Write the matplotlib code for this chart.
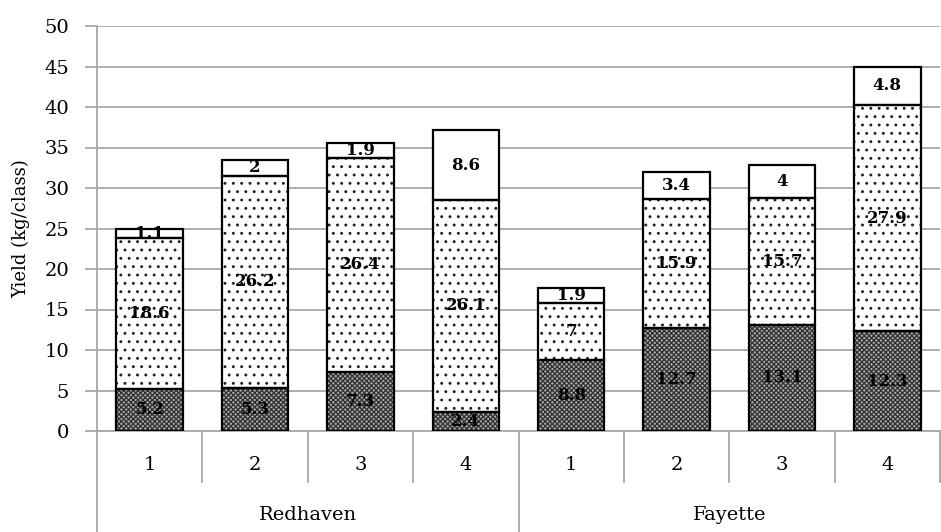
import numpy as np
import matplotlib.pyplot as plt
import matplotlib as mpl

plt.rcParams['font.family'] = ['DejaVu Serif']
mpl.rcParams['hatch.linewidth'] = 0.9

classes = ['1', '2', '3', '4', '1', '2', '3', '4']
cultivars = ['Redhaven', 'Fayette']
low = [5.2, 5.3, 7.3, 2.4, 8.8, 12.7, 13.1, 12.3]
mid = [18.6, 26.2, 26.4, 26.1, 7, 15.9, 15.7, 27.9]
top = [1.1, 2, 1.9, 8.6, 1.9, 3.4, 4, 4.8]

fig = plt.figure(figsize=(9.41, 5.32), dpi=100)
ax = fig.add_axes([97 / 941, 1 - 431 / 532, 843 / 941, 405 / 532])

x = np.arange(len(classes))
w = 0.63
low = np.array(low)
mid = np.array(mid)
top = np.array(top)

ax.bar(x, low, w, facecolor='#a8a8a8', edgecolor='#303030', hatch='xxxxxxx', linewidth=0, zorder=3)
ax.bar(x, mid, w, bottom=low, facecolor='white', edgecolor='#202020', hatch='..', linewidth=0, zorder=3)
ax.bar(x, top, w, bottom=low + mid, facecolor='white', edgecolor='black', linewidth=0, zorder=3)
for bottoms, vals in [(0 * low, low), (low, mid), (low + mid, top)]:
    ax.bar(x, vals, w, bottom=bottoms, fill=False, edgecolor='black', linewidth=1.6, zorder=4)

def fmt(v):
    return ('%g' % v)

for i in range(len(x)):
    ax.text(x[i], low[i] / 2, fmt(low[i]), ha='center', va='center', fontsize=12, fontweight='bold', zorder=5)
    ax.text(x[i], low[i] + mid[i] / 2, fmt(mid[i]), ha='center', va='center', fontsize=12, fontweight='bold', zorder=5)
    ax.text(x[i], low[i] + mid[i] + top[i] / 2, fmt(top[i]), ha='center', va='center', fontsize=12, fontweight='bold', zorder=5)

ax.set_xlim(-0.5, len(x) - 0.5)
ax.set_ylim(0, 50)
ax.set_yticks(np.arange(0, 51, 5))
ax.yaxis.grid(True, color='#a8a8a8', linewidth=1.3, zorder=0)
ax.tick_params(axis='y', length=9, width=1.3, color='#a8a8a8', labelsize=14, pad=11)
ax.set_xticks([])
for s in ['top', 'right', 'bottom']:
    ax.spines[s].set_visible(False)
ax.spines['left'].set_color('#a8a8a8')
ax.spines['left'].set_linewidth(1.3)
ax.set_ylabel('Yield (kg/class)', fontsize=13, labelpad=10)

# category axis below the plot
trans = ax.get_xaxis_transform()
ax.plot([-0.5, len(x) - 0.5], [0, 0], color='#a8a8a8', lw=1.3, transform=trans, clip_on=False)
row1 = -51 / 405
row2 = -101 / 405
for b in range(len(x) + 1):
    pos = b - 0.5
    end = row2 if b in (0, 4) else row1
    ax.plot([pos, pos], [0, end], color='#a8a8a8', lw=1.3, transform=trans, clip_on=False)
for i, c in enumerate(classes):
    ax.text(x[i], -34 / 405, c, ha='center', va='center', fontsize=14, transform=trans)
for j, name in enumerate(cultivars):
    ax.text(1.5 + 4 * j, -84 / 405, name, ha='center', va='center', fontsize=14, transform=trans)

fig.savefig('out.png', dpi=100)
